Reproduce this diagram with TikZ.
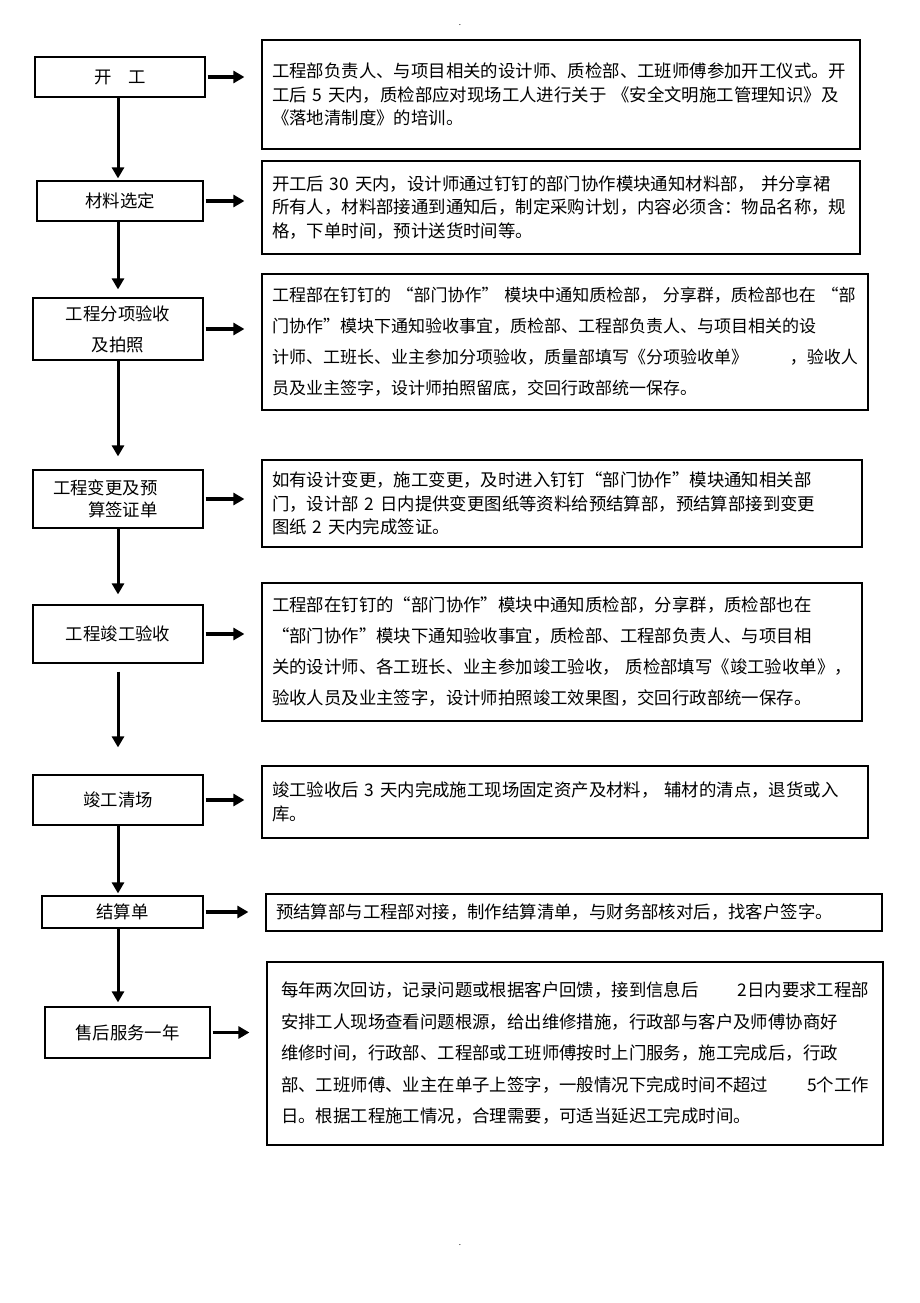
\documentclass[tikz,border=0pt]{standalone}
\usepackage{fontspec}
\setmainfont{Noto Sans CJK SC}
\usetikzlibrary{arrows.meta}

\begin{document}
\begin{tikzpicture}[x=1pt, y=-1pt,
      stage/.style={draw, line width=1.2pt, minimum width=170pt, align=center,
          font=\fontsize{17.4pt}{22pt}\selectfont},
      note/.style={draw, line width=1.2pt, align=left, inner xsep=10pt,
          font=\fontsize{17.4pt}{23.5pt}\selectfont},
      wide/.style={font=\fontsize{17.4pt}{31pt}\selectfont},
      flow/.style={line width=3pt, shorten >=2pt, -{Triangle[length=11pt,width=12pt]}},
      side/.style={flow, line width=3.6pt, shorten <=2pt, shorten >=17pt}]
    \useasboundingbox (0,0) rectangle (920,1303);
    \coordinate (spine) at (118,0);
    \node[font=\fontsize{8pt}{8pt}\selectfont] (topdot) at (460,25) {.};
    \node[font=\fontsize{8pt}{8pt}\selectfont] (footdot) at (460,1245) {.};

    \node[stage, minimum height=40pt] (kaigong) at (120,77) {开\hspace{17pt}工};
    \node[stage, minimum width=166pt, minimum height=40pt] (xuancai) at (120,201) {材料选定};
    \node[stage, minimum height=62pt, wide] (fenxiang) at (118,329) {工程分项验收\\及拍照};
    \node[stage, minimum height=58pt, text width=130pt, align=left] (biangeng) at (118,499)
        {工程变更及预\\\hspace*{35pt}算签证单};
    \node[stage, minimum height=58pt] (jungong) at (118,634) {工程竣工验收};
    \node[stage, minimum height=50pt] (qingchang) at (118,800) {竣工清场};
    \node[stage, minimum width=161pt, minimum height=32pt] (jiesuan) at (122.5,912) {结算单};
    \node[stage, minimum width=165pt, minimum height=51pt] (shouhou) at (127.5,1032.5) {售后服务一年};

    \node[note, text width=578pt, minimum height=109pt] (kaigong-note) at (561,94.5) {
        工程部负责人、与项目相关的设计师、质检部、工班师傅参加开工仪式。开\\
        工后 5 天内，质检部应对现场工人进行关于 《安全文明施工管理知识》及\\
        《落地清制度》的培训。};
    \node[note, text width=578pt, minimum height=93pt] (xuancai-note) at (561,207.5) {
        开工后 30 天内，设计师通过钉钉的部门协作模块通知材料部， 并分享裙\\
        所有人，材料部接通到通知后，制定采购计划，内容必须含：物品名称，规\\
        格，下单时间，预计送货时间等。};
    \node[note, text width=586pt, minimum height=136pt,
        font=\fontsize{17pt}{31pt}\selectfont] (fenxiang-note) at (565,342) {
        工程部在钉钉的~“部门协作”~模块中通知质检部，~分享群，质检部也在~“部\\
        门协作”模块下通知验收事宜，质检部、工程部负责人、与项目相关的设\\
        计师、工班长、业主参加分项验收，质量部填写《分项验收单》\hfill ，验收人\\
        员及业主签字，设计师拍照留底，交回行政部统一保存。};
    \node[note, text width=580pt, minimum height=87pt] (biangeng-note) at (562,503.5) {
        如有设计变更，施工变更，及时进入钉钉“部门协作”模块通知相关部\\
        门，设计部 2 日内提供变更图纸等资料给预结算部，预结算部接到变更\\
        图纸 2 天内完成签证。};
    \node[note, wide, text width=580pt, minimum height=138pt] (jungong-note) at (562,652) {
        工程部在钉钉的“部门协作”模块中通知质检部，分享群，质检部也在\\
        “部门协作”模块下通知验收事宜，质检部、工程部负责人、与项目相\\
        关的设计师、各工班长、业主参加竣工验收， 质检部填写《竣工验收单》，\\
        验收人员及业主签字，设计师拍照竣工效果图，交回行政部统一保存。};
    \node[note, text width=586pt, minimum height=72pt] (qingchang-note) at (565,802) {
        竣工验收后 3 天内完成施工现场固定资产及材料， 辅材的清点，退货或入\\
        库。};
    \node[note, text width=596pt, minimum height=37pt] (jiesuan-note) at (574,912.5) {
        预结算部与工程部对接，制作结算清单，与财务部核对后，找客户签字。};
    \node[note, inner xsep=14pt, text width=588pt, minimum height=183pt,
        font=\fontsize{17.4pt}{31.5pt}\selectfont] (shouhou-note) at (575,1053.5) {
        每年两次回访，记录问题或根据客户回馈，接到信息后\hfill 2日内要求工程部\\
        安排工人现场查看问题根源，给出维修措施，行政部与客户及师傅协商好\\
        维修时间，行政部、工程部或工班师傅按时上门服务，施工完成后，行政\\
        部、工班师傅、业主在单子上签字，一般情况下完成时间不超过\hfill 5个工作\\
        日。根据工程施工情况，合理需要，可适当延迟工完成时间。};

    \draw[side] (kaigong.east) -- (kaigong.east -| kaigong-note.west);
    \draw[side] (xuancai.east) -- (xuancai.east -| xuancai-note.west);
    \draw[side] (fenxiang.east) -- (fenxiang.east -| fenxiang-note.west);
    \draw[side] (biangeng.east) -- (biangeng.east -| biangeng-note.west);
    \draw[side] (jungong.east) -- (jungong.east -| jungong-note.west);
    \draw[side] (qingchang.east) -- (qingchang.east -| qingchang-note.west);
    \draw[side] (jiesuan.east) -- (jiesuan.east -| jiesuan-note.west);
    \draw[side] (shouhou.east) -- (shouhou.east -| shouhou-note.west);

    \draw[flow] (kaigong.south -| spine) -- (xuancai.north -| spine);
    \draw[flow, shorten >=8pt] (xuancai.south -| spine) -- (fenxiang.north -| spine);
    \draw[flow, shorten >=13pt] (fenxiang.south -| spine) -- (biangeng.north -| spine);
    \draw[flow, shorten >=10pt] (biangeng.south -| spine) -- (jungong.north -| spine);
    \draw[flow, shorten <=8pt, shorten >=27pt] (jungong.south -| spine) -- (qingchang.north -| spine);
    \draw[flow] (qingchang.south -| spine) -- (jiesuan.north -| spine);
    \draw[flow, shorten >=4pt] (jiesuan.south -| spine) -- (shouhou.north -| spine);
\end{tikzpicture}
\end{document}
